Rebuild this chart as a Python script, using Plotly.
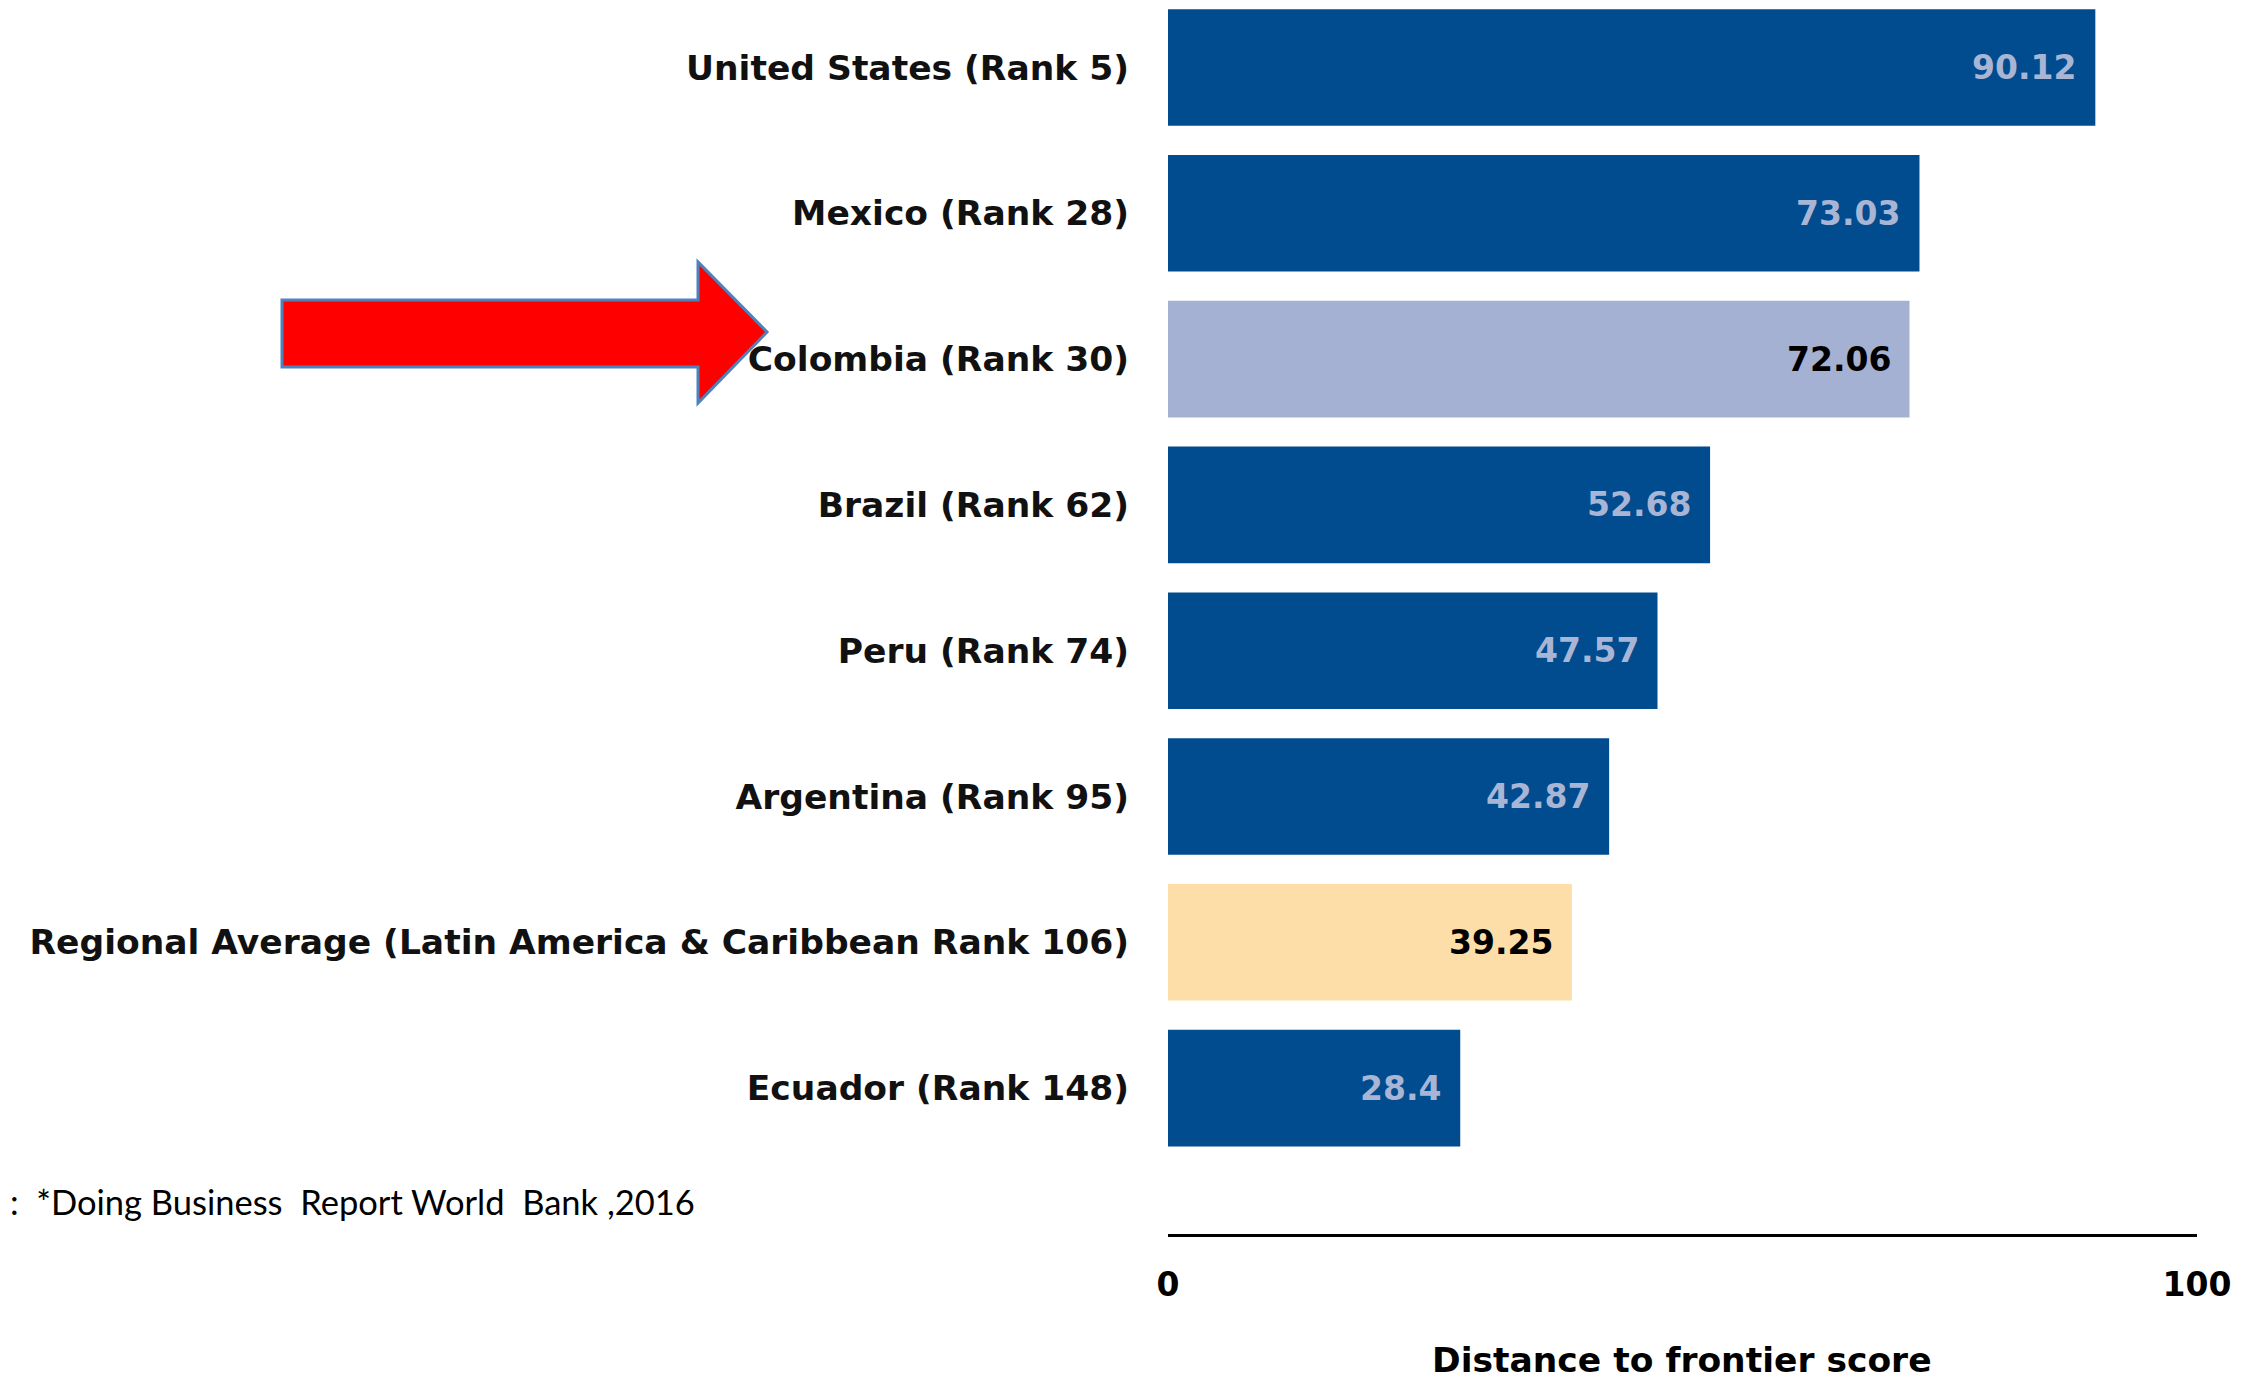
import plotly.graph_objects as go

# ---------------- data ----------------
categories = [
    "United States (Rank 5)",
    "Mexico (Rank 28)",
    "Colombia (Rank 30)",
    "Brazil (Rank 62)",
    "Peru (Rank 74)",
    "Argentina (Rank 95)",
    "Regional Average (Latin America & Caribbean Rank 106)",
    "Ecuador (Rank 148)",
]
scores = [90.12, 73.03, 72.06, 52.68, 47.57, 42.87, 39.25, 28.4]
score_labels = ["90.12", "73.03", "72.06", "52.68", "47.57", "42.87", "39.25", "28.4"]
bar_colors = ["#004C8E", "#004C8E", "#A5B1D3", "#004C8E", "#004C8E", "#004C8E", "#FDDEA9", "#004C8E"]
label_colors = ["#A9B5D5", "#A9B5D5", "#000000", "#A9B5D5", "#A9B5D5", "#A9B5D5", "#000000", "#A9B5D5"]
x_tick_vals = [0, 100]
x_tick_text = ["0", "100"]
x_title = "Distance to frontier score"
source_note = ":\u00a0\u00a0*Doing Business\u00a0\u00a0Report World\u00a0\u00a0Bank ,2016"

# ---------------- layout geometry (pixels) ----------------
OFF = 8  # default page body margin
W, H = 2247, 1379
L = 1168 - OFF
R = W - (2197 - OFF)
T = 0
B = H - (1234 - OFF)
PW = W - L - R
PH = H - T - B


def px_x(page_x):
    return (page_x - OFF - L) / PW


def px_y(page_y):
    return (H - B - (page_y - OFF)) / PH


BOLD = "DejaVu Sans"

fig = go.Figure()
fig.add_trace(
    go.Bar(
        x=scores,
        y=categories,
        orientation="h",
        marker=dict(color=bar_colors, line=dict(width=0)),
        hoverinfo="skip",
    )
)

for cat, val, lab, col in zip(categories, scores, score_labels, label_colors):
    fig.add_annotation(
        x=val, y=cat, xref="x", yref="y", text="<b>" + lab + "</b>",
        showarrow=False, xanchor="right", yanchor="middle", xshift=-17,
        font=dict(family=BOLD, size=33, color=col),
    )

# arrow pointing at Colombia (page pixel outline)
arrow_pts = [(282, 300), (698, 300), (698, 262), (767, 332), (698, 403), (698, 367), (282, 367)]
path = "M " + " L ".join(f"{px_x(a):.5f},{px_y(b):.5f}" for a, b in arrow_pts) + " Z"
fig.add_shape(
    type="path", path=path, xref="paper", yref="paper",
    fillcolor="#FF0000", line=dict(color="#4F81BD", width=3), layer="below",
)

fig.add_annotation(
    x=px_x(1682), y=px_y(1360), xref="paper", yref="paper",
    text="<b>" + x_title + "</b>", showarrow=False,
    xanchor="center", yanchor="middle",
    font=dict(family=BOLD, size=34.5, color="#000000"),
)
fig.add_annotation(
    x=px_x(OFF + 1), y=px_y(1201), xref="paper", yref="paper",
    text=source_note, showarrow=False, xanchor="left", yanchor="middle",
    borderpad=0,
    font=dict(family="Lato", size=34.5, color="#000000"),
)

c0 = 67.5 - OFF
step = 145.8
fig.update_layout(
    width=W, height=H,
    margin=dict(l=L, r=R, t=T, b=B),
    paper_bgcolor="white", plot_bgcolor="white",
    showlegend=False,
    bargap=0.2,
    xaxis=dict(
        range=[0, 100], tickvals=x_tick_vals, ticktext=["<b>" + t + "</b>" for t in x_tick_text],
        showgrid=False, zeroline=False, showline=True, linecolor="#000000", linewidth=3,
        ticks="", ticklabelstandoff=19,
        tickfont=dict(family=BOLD, size=33, color="#000000"),
    ),
    yaxis=dict(
        type="category", categoryorder="array", categoryarray=categories,
        range=[(PH - c0) / step, -c0 / step],
        tickvals=categories, ticktext=["<b>" + c + "</b>" for c in categories],
        showgrid=False, zeroline=False, showline=False, ticks="",
        ticklabelstandoff=38,
        tickfont=dict(family=BOLD, size=34.5, color="#111111"),
    ),
)

fig.write_html("out.html")
